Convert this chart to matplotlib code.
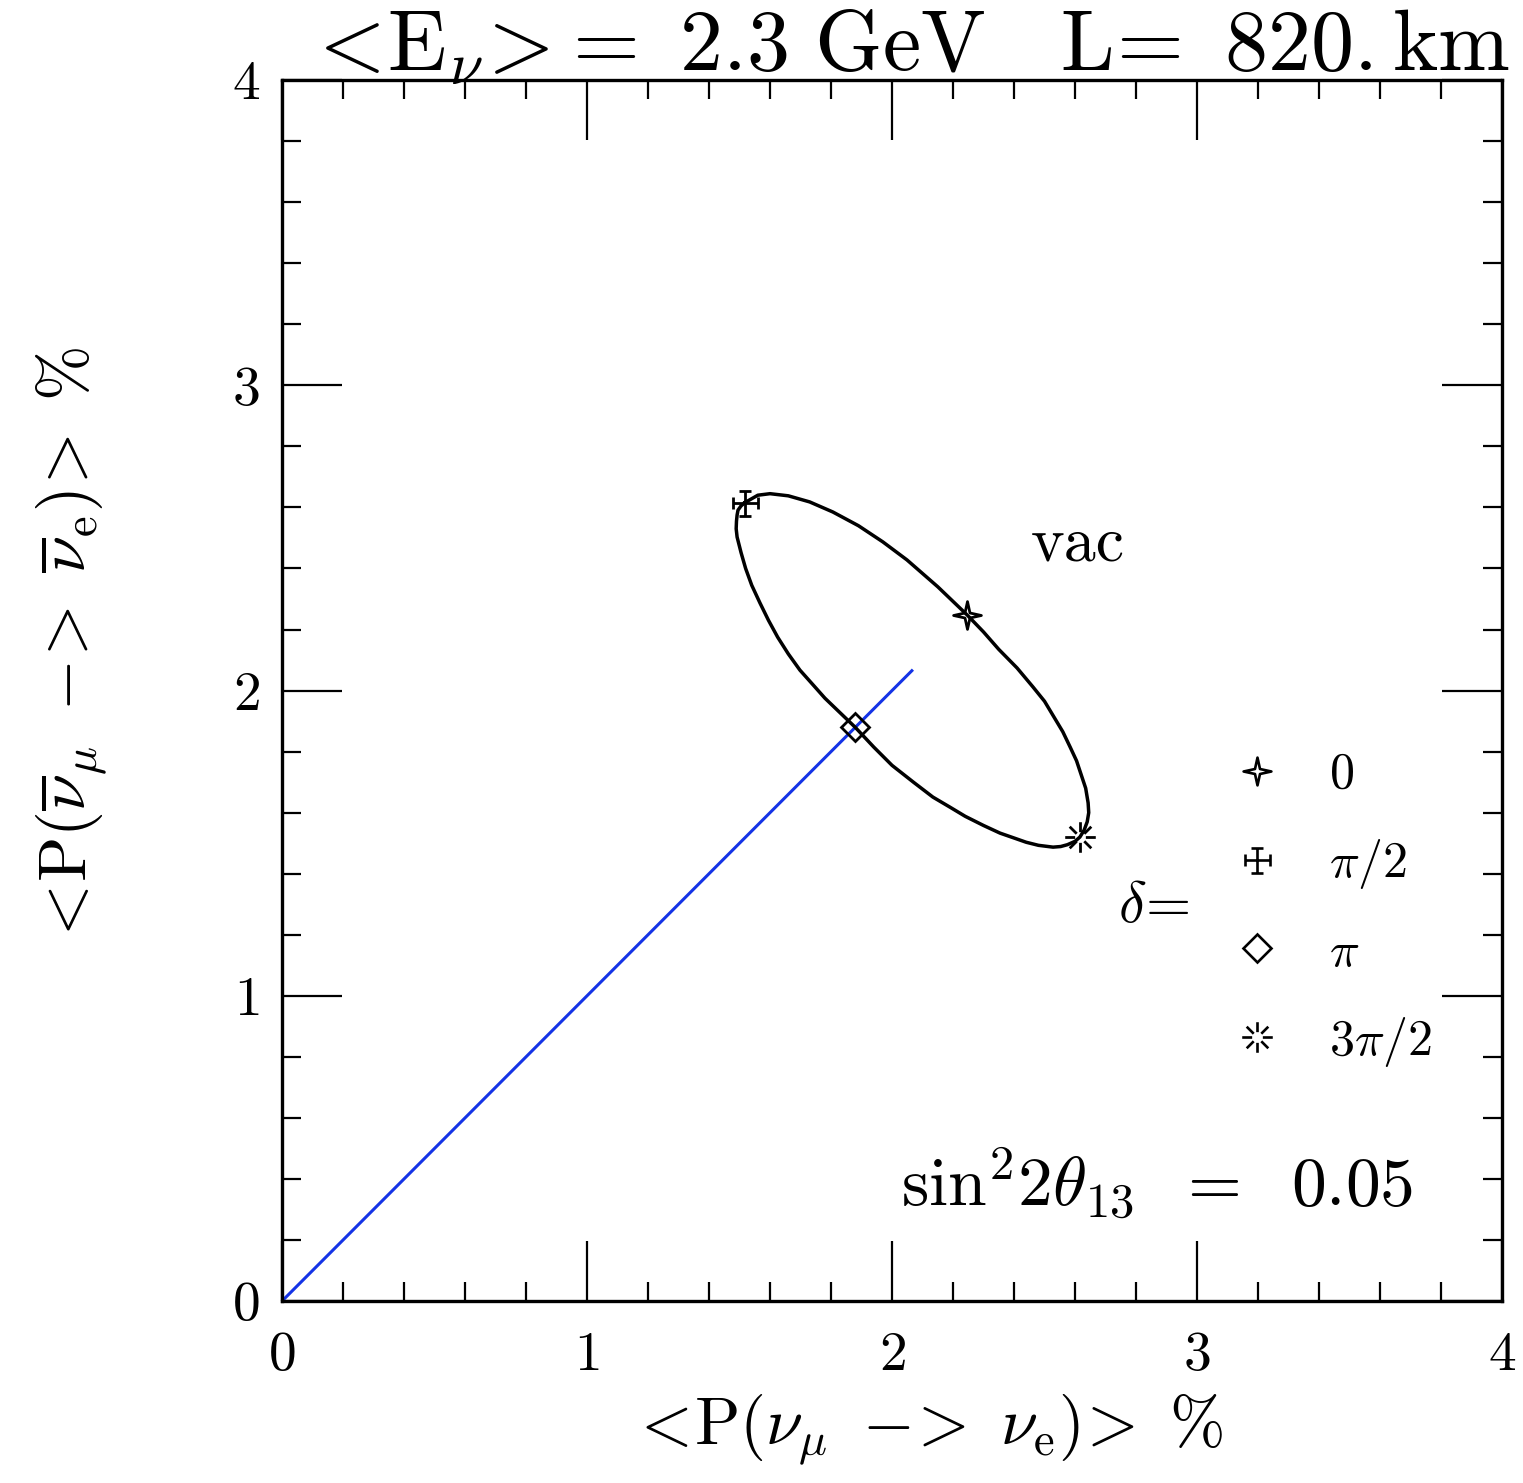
import matplotlib
matplotlib.use("Agg")
import matplotlib.pyplot as plt
from matplotlib.path import Path
from matplotlib.lines import Line2D
import numpy as np

plt.rcParams['font.family'] = ['cmr10', 'DejaVu Serif']
plt.rcParams['mathtext.fontset'] = 'cm'
plt.rcParams['axes.formatter.use_mathtext'] = True

# ellipse of (P(nu_mu->nu_e), P(anti)) in %, going round from delta=pi/2
ell_x = [1.518, 1.56, 1.60, 1.66, 1.73, 1.806, 1.89, 1.97, 2.049, 2.15, 2.246,
         2.30, 2.35, 2.41, 2.462, 2.50, 2.53, 2.56, 2.584, 2.605, 2.62, 2.635,
         2.643, 2.645, 2.640, 2.630, 2.616, 2.600, 2.575, 2.553, 2.528,
         2.48, 2.44, 2.40, 2.354, 2.30, 2.24, 2.19, 2.134, 2.07, 2.00, 1.94,
         1.879, 1.83, 1.78, 1.74, 1.698, 1.66, 1.625, 1.595, 1.567, 1.54,
         1.52, 1.505, 1.492, 1.489, 1.490, 1.492, 1.495, 1.505, 1.518]
ell_y = [2.616, 2.640, 2.645, 2.638, 2.618, 2.585, 2.540, 2.487, 2.428, 2.340, 2.248,
         2.192, 2.135, 2.074, 2.012, 1.965, 1.915, 1.865, 1.815, 1.770, 1.725, 1.680,
         1.632, 1.600, 1.570, 1.543, 1.520, 1.506, 1.495, 1.489, 1.487,
         1.493, 1.503, 1.517, 1.533, 1.558, 1.588, 1.618, 1.651, 1.700, 1.755, 1.815,
         1.880, 1.927, 1.975, 2.020, 2.067, 2.120, 2.175, 2.230, 2.287, 2.345,
         2.400, 2.452, 2.503, 2.530, 2.555, 2.575, 2.591, 2.605, 2.616]

# delta = 0, pi/2, pi, 3pi/2
delta_labels = [r'$0$', r'$\pi/2$', r'$\pi$', r'$3\pi/2$']
delta_x = [2.246, 1.518, 1.879, 2.616]
delta_y = [2.248, 2.616, 1.880, 1.520]

# diagonal P = Pbar
diag_x = [0.0, 2.065]
diag_y = [0.0, 2.065]


def star4():
    v = [(0, 1), (0.18, 0.18), (1, 0), (0.18, -0.18), (0, -1), (-0.18, -0.18),
         (-1, 0), (-0.18, 0.18), (0, 1)]
    return Path(v, closed=True)


def cross_bars():
    v, c = [], []
    segs = [((-1, 0), (1, 0)), ((0, -1), (0, 1)),
            ((-0.45, 1), (0.45, 1)), ((-0.45, -1), (0.45, -1)),
            ((-1, -0.45), (-1, 0.45)), ((1, -0.45), (1, 0.45))]
    for a, b in segs:
        v += [a, b]
        c += [Path.MOVETO, Path.LINETO]
    return Path(v, c)


def spoke_star():
    v, c = [], []
    for k in range(8):
        t = k * np.pi / 4
        v += [(0.35 * np.cos(t), 0.35 * np.sin(t)), (np.cos(t), np.sin(t))]
        c += [Path.MOVETO, Path.LINETO]
    return Path(v, c)


markers = [star4(), cross_bars(), 'D', spoke_star()]
msizes = [20, 18, 14, 22]

fig = plt.figure(figsize=(15.23, 14.83), dpi=100)
ax = fig.add_axes([0.1852, 0.1227, 0.801, 0.8233])

ax.plot(diag_x, diag_y, color='#1433e6', lw=2.2, zorder=2)
ax.plot(ell_x, ell_y, color='black', lw=2.5, zorder=3)

handles = []
for i in range(4):
    ax.plot(delta_x[i], delta_y[i], linestyle='none', marker=markers[i],
            ms=msizes[i], mfc='none', mec='black', mew=2.0, zorder=4)
    handles.append(Line2D([], [], linestyle='none', marker=markers[i],
                          ms=msizes[i], mfc='none', mec='black', mew=1.9))

leg = ax.legend(handles, delta_labels, loc='upper left', bbox_to_anchor=(0.758, 0.47),
                frameon=False, fontsize=36, labelspacing=0.78, handletextpad=0.95,
                handlelength=1.0, borderpad=0)

ax.set_xlim(0, 4)
ax.set_ylim(0, 4)
ax.set_xticks([0, 1, 2, 3, 4])
ax.set_yticks([0, 1, 2, 3, 4])
ax.set_xticks(np.arange(0, 4.01, 0.2), minor=True)
ax.set_yticks(np.arange(0, 4.01, 0.2), minor=True)
ax.tick_params(which='both', direction='in', top=True, right=True, width=1.6)
ax.tick_params(which='major', length=43, labelsize=40, pad=22)
ax.tick_params(which='minor', length=14)
ax.tick_params(axis='y', which='major', pad=16)
for s in ax.spines.values():
    s.set_linewidth(2.4)

ax.text(2.61, 2.48, 'vac', fontsize=46, ha='center', va='center')
ax.text(2.74, 1.29, r'$\delta\!=$', fontsize=42, ha='left', va='center')
ax.text(2.03, 0.31, r'$\mathrm{sin}^2 2\theta_{13}\;\ =\;\ 0.05$', fontsize=50,
        ha='left', va='baseline')

fig.text(0.595, 0.968, r'$<\!\mathrm{E}_{\nu}\!>\!=\ \mathrm{2.3\ GeV\ \ \ L\!=\ 820.km}$',
         fontsize=62, ha='center', va='center')
ax.set_xlabel(r'$<\!\mathrm{P}(\nu_{\mu}\ -\!\!>\ \nu_{\mathrm{e}})\!>\ \%$',
              fontsize=48, labelpad=8, x=0.528)
ax.set_ylabel(r'$<\!\mathrm{P}(\overline{\nu}_{\mu}\ -\!\!>\ \overline{\nu}_{\mathrm{e}})\!>\ \%$',
              fontsize=48, labelpad=88, y=0.536)

fig.savefig('out.png', dpi=100)
